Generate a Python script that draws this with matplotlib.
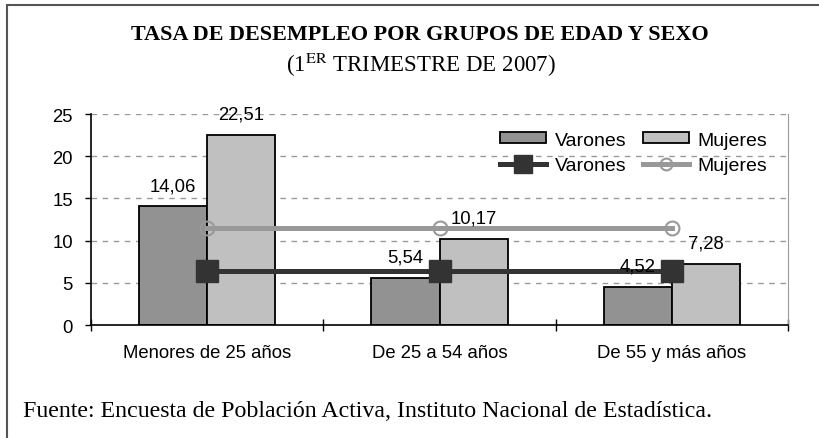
import matplotlib
matplotlib.use('Agg')
import matplotlib.pyplot as plt
from matplotlib.patches import Rectangle
import numpy as np

# Datos (EPA, 1er trimestre 2007)
grupos = ['Menores de 25 años', 'De 25 a 54 años', 'De 55 y más años']
varones = [14.06, 5.54, 4.52]
mujeres = [22.51, 10.17, 7.28]
total_varones = [6.35, 6.35, 6.35]       # lineas de tasa media
total_mujeres = [11.45, 11.45, 11.45]
yticks = [0, 5, 10, 15, 20, 25]

plt.rcParams['font.family'] = ['Liberation Sans', 'DejaVu Sans']
plt.rcParams['mathtext.fontset'] = 'stix'

fs = 13.3   # texto del grafico (Arial)

fig = plt.figure(figsize=(8.2, 4.39), dpi=100)
ax = fig.add_axes([0.111, 0.2574, 0.850, 0.4806])

x = np.arange(len(grupos))
w = 0.293

b1 = ax.bar(x - w/2, varones, w, color='#929292', edgecolor='black', linewidth=1.3, zorder=2)
b2 = ax.bar(x + w/2, mujeres, w, color='#c0c0c0', edgecolor='black', linewidth=1.3, zorder=2)

l1, = ax.plot(x, total_varones, color='#333333', lw=3.6, marker='s', ms=15.5,
              markerfacecolor='#333333', markeredgecolor='#333333', zorder=4)
l2, = ax.plot(x, total_mujeres, color='#999999', lw=3.6, marker='o', ms=10,
              markerfacecolor='none', markeredgecolor='#999999', markeredgewidth=1.5, zorder=3)

# etiquetas de valores
for xi, v in zip(x - w/2, varones):
    ax.annotate('{:.2f}'.format(v).replace('.', ','), (xi, v), xytext=(0, 15),
                textcoords='offset points', ha='center', va='center', fontsize=fs, zorder=5)
for xi, v in zip(x + w/2, mujeres):
    ax.annotate('{:.2f}'.format(v).replace('.', ','), (xi, v), xytext=(0, 15),
                textcoords='offset points', ha='center', va='center', fontsize=fs, zorder=5)

ax.set_xlim(-0.5, 2.5)
ax.set_ylim(0, 25)
ax.set_yticks(yticks)
ax.set_yticklabels([str(t) for t in yticks], fontsize=fs)
ax.tick_params(axis='y', direction='out', length=4, width=1, pad=9)

ax.set_xticks([-0.5, 0.5, 1.5, 2.5])
ax.set_xticklabels([])
ax.set_xticks(x, minor=True)
ax.set_xticklabels(grupos, minor=True, fontsize=fs)
ax.tick_params(axis='x', which='major', direction='inout', length=8, width=1)
ax.tick_params(axis='x', which='minor', length=0, pad=14)

ax.grid(axis='y', linestyle=(0, (4, 4)), color='#9a9a9a', linewidth=1, zorder=0)
ax.set_axisbelow(True)
ax.spines['top'].set_visible(False)
ax.spines['right'].set_color('#999999')
ax.spines['left'].set_linewidth(1.2)
ax.spines['bottom'].set_linewidth(1.2)

leg = ax.legend([b1, l1, b2, l2], ['Varones', 'Varones', 'Mujeres', 'Mujeres'], ncol=2,
                loc='upper right', bbox_to_anchor=(0.995, 1.0), frameon=False, fontsize=14,
                handlelength=2.35, handleheight=0.5, columnspacing=0.85, handletextpad=0.45,
                labelspacing=0.45, markerscale=0.85)

# titulo y fuente
fig.text(0.512, 0.921, 'TASA DE DESEMPLEO POR GRUPOS DE EDAD Y SEXO', ha='center', va='center',
         family='Liberation Serif', fontweight='bold', fontsize=15.9)
fig.text(0.513, 0.853, r'(1$^{\mathrm{ER}}$ TRIMESTRE DE 2007)', ha='center', va='center',
         family='Liberation Serif', fontsize=16.5)
fig.text(0.028, 0.062, 'Fuente: Encuesta de Población Activa, Instituto Nacional de Estadística.',
         ha='left', va='center', family='Liberation Serif', fontsize=17.2)

# marco exterior
fig.patches.append(Rectangle((7/820, -0.1), 1.1, 1 - 6/439 + 0.1, transform=fig.transFigure,
                             fill=False, edgecolor='#555555', linewidth=1.5))

fig.savefig('out.png', dpi=100)
